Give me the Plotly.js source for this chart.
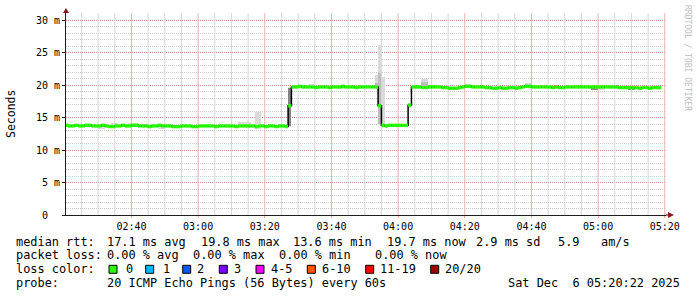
<!DOCTYPE html>
<html>
<head>
<meta charset="utf-8">
<script src="https://cdn.plot.ly/plotly-3.0.1.min.js"></script>
<style>
  html, body { margin: 0; padding: 0; background: #ffffff; }
  #chart { width: 697px; height: 297px; }
</style>
</head>
<body>
<div id="chart"></div>
<script>
// ---------------- DATA ----------------
// Median RTT (ms), one value per 1-minute bin starting 02:20 (bin 0) through 05:18 (bin 178)
const firstBin = '02:20';
const medianRtt = [
  13.8,13.7,13.7,13.8,13.7,13.7,13.8,13.8,13.7,13.7,
  13.7,13.8,13.7,13.6,13.6,13.7,13.7,13.8,13.7,13.7,
  13.8,13.8,13.7,13.7,13.7,13.6,13.7,13.7,13.8,13.7,
  13.7,13.7,13.6,13.6,13.6,13.7,13.7,13.7,13.6,13.6,
  13.7,13.7,13.7,13.7,13.7,13.6,13.7,13.7,13.7,13.7,
  13.7,13.6,13.7,13.7,13.7,13.7,13.7,13.6,13.7,13.7,
  13.6,13.7,13.7,13.6,13.7,13.7,13.6,
  16.8,
  19.7,19.7,19.8,19.7,19.7,19.7,19.7,19.6,19.7,19.7,
  19.7,19.6,19.7,19.7,19.7,19.8,19.7,19.7,19.7,19.6,
  19.7,19.7,19.7,19.7,19.7,19.7,
  16.8,
  13.8,13.7,13.8,13.8,13.8,13.8,13.8,13.8,
  16.9,
  19.7,19.7,19.7,19.6,19.6,19.7,19.7,19.7,19.7,19.6,
  19.6,19.5,19.5,19.5,19.6,19.7,19.8,19.8,19.7,19.7,
  19.7,19.7,19.6,19.6,19.5,19.5,19.6,19.5,19.5,19.6,
  19.6,19.5,19.6,19.7,19.8,19.8,19.7,19.7,19.7,19.7,
  19.7,19.7,19.6,19.7,19.6,19.6,19.7,19.7,19.7,19.7,
  19.7,19.7,19.7,19.7,19.7,19.7,19.7,19.7,19.7,19.7,
  19.7,19.7,19.6,19.6,19.6,19.6,19.6,19.6,19.5,19.6,
  19.6,19.5,19.6,19.6,19.6
];

// Smoke (spread of the 20 pings) where it shows beyond the median line
const smokeOuterBins = ['02:30','02:31','02:34','02:35','02:36','02:39','02:40','02:41','02:48','02:49',
  '03:12','03:13','03:14','03:15','03:17','03:18','03:27','03:33','03:34','03:42','03:43',
  '03:53','03:54','03:55','03:57','03:58','03:59','04:00','04:03','04:07','04:08',
  '04:20','04:21','04:38','04:39','05:00','05:01'];
const smokeOuterLow  = [13.3,13.3,13.5,13.5,13.5,13.5,13.5,13.5,13.3,13.3,
  13.5,13.5,13.5,13.4,13.3,13.3,13.6,19.5,19.5,19.4,19.4,
  19.6,13.8,13.7,13.5,13.5,13.5,13.5,16.4,19.5,19.5,
  19.6,19.6,19.6,19.6,19.2,19.2];
const smokeOuterHigh = [13.9,13.9,14.1,14.1,14.0,14.1,14.1,14.1,13.8,13.8,
  14.3,14.35,14.35,14.3,15.9,15.9,19.7,20.1,20.1,19.9,19.9,
  21.6,26.2,21.2,13.9,13.9,13.9,13.9,17.3,21.0,21.0,
  20.1,20.1,20.35,20.35,19.7,19.7];

const smokeMidBins = ['03:53','03:54','04:07','04:08','04:38','05:06','05:07'];
const smokeMidLow  = [19.6,14.0,19.6,19.6,19.7,19.35,19.35];
const smokeMidHigh = [20.3,21.8,20.4,20.4,20.1,19.6,19.6];

const smokeCoreBins = ['03:27','04:58','04:59','05:09','05:10'];
const smokeCoreLow  = [13.7,19.3,19.3,19.3,19.3];
const smokeCoreHigh = [19.6,19.6,19.6,19.6,19.6];

// Axis ticks
const yTickVals = [0,5,10,15,20,25,30];
const yTickText = ['0\u00a0\u00a0','5 m','10 m','15 m','20 m','25 m','30 m'];
const xGridFirst = '02:25', xGridLast = '05:20';   // 5-minute minor grid, 20-minute major grid

// Legend / statistics text
const rowLabels = ['median rtt:', 'packet loss:', 'loss color:', 'probe:'];
const rttStats = ['17.1 ms avg', '19.8 ms max', '13.6 ms min', '19.7 ms now', '2.9 ms sd', '5.9', 'am/s'];
const lossStats = ['0.00 % avg', '0.00 % max', '0.00 % min', '0.00 % now'];
const lossLabels = ['0', '1', '2', '3', '4-5', '6-10', '11-19', '20/20'];
const lossColors = ['#26ff00', '#00b8ff', '#0059ff', '#7e00ff', '#ff00ff', '#ff5500', '#ff0000', '#a10000'];
const probeText = '20 ICMP Echo Pings (56 Bytes) every 60s';
const dateText = 'Sat Dec\u00a0\u00a06 05:20:22 2025';
const watermark = 'RRDTOOL / TOBI OETIKER';
const yTitle = 'Seconds';

// ---------------- HELPERS ----------------
const DAY = '2025-12-06 ';
function pad(n) { return (n < 10 ? '0' : '') + n; }
function toMin(hhmm) { const p = hhmm.split(':'); return (+p[0]) * 60 + (+p[1]); }
function minToTime(m) { return DAY + pad(Math.floor(m / 60)) + ':' + pad(m % 60) + ':00'; }
const startMin = toMin(firstBin);
const binTimes = medianRtt.map((_, i) => minToTime(startMin + i));
const binEnds = medianRtt.map((_, i) => minToTime(startMin + i + 1));

// plot geometry (pixels)
const L = 66, R = 666, T = 13, B = 215;
const Y_MAX = (B - T) / 6.5;
const px2x = p => (p - L) / (R - L);
const py2y = p => (B - p) / (B - T);
const X_RANGE = ['2025-12-06 02:20:22', '2025-12-06 05:20:22'];

function smokeTrace(bins, lo, hi, color) {
  return {
    type: 'bar',
    x: bins.map(b => minToTime(toMin(b))),
    base: lo,
    y: hi.map((h, i) => h - lo[i]),
    width: 60000,
    offset: 0,
    marker: { color: color, line: { width: 0 } },
    hoverinfo: 'skip'
  };
}

// vertical time grid drawn through the x data scale
const vgMinorX = [], vgMinorY = [], vgMajorX = [], vgMajorY = [];
for (let m = toMin(xGridFirst); m <= toMin(xGridLast); m += 5) {
  const tx = minToTime(m);
  if (m % 20 === 0) { vgMajorX.push(tx, tx, null); vgMajorY.push(0, Y_MAX, null); }
  else { vgMinorX.push(tx, tx, null); vgMinorY.push(0, Y_MAX, null); }
}

// green median segments (horizontal only)
const gx = [], gy = [];
medianRtt.forEach((v, i) => { gx.push(binTimes[i], binEnds[i], null); gy.push(v, v, null); });

const traces = [
  { type: 'scatter', mode: 'lines', x: vgMinorX, y: vgMinorY, connectgaps: false,
    line: { color: '#d6d6d6', width: 1 }, hoverinfo: 'skip' },
  { type: 'scatter', mode: 'lines', x: vgMajorX, y: vgMajorY, connectgaps: false,
    line: { color: '#eeb0b0', width: 1 }, hoverinfo: 'skip' },
  smokeTrace(smokeOuterBins, smokeOuterLow, smokeOuterHigh, '#dadada'),
  smokeTrace(smokeMidBins, smokeMidLow, smokeMidHigh, '#bdbdbd'),
  smokeTrace(smokeCoreBins, smokeCoreLow, smokeCoreHigh, '#858585'),
  {
    type: 'scatter', mode: 'lines',
    x: binTimes, y: medianRtt,
    line: { color: '#000000', width: 1.5, shape: 'hv' },
    hoverinfo: 'skip'
  },
  {
    type: 'scatter', mode: 'lines',
    x: gx, y: gy, connectgaps: false,
    line: { color: lossColors[0], width: 3.4 },
    hoverinfo: 'skip'
  }
];

// ---------------- LAYOUT ----------------
const MONO = 'DejaVu Sans Mono, monospace';
const axisCol = 'rgb(31,31,31)';
const gridCol = 'rgba(143,143,143,0.45)';
const mgridCol = 'rgba(222,79,79,0.5)';
const txtSize = 11.9;

const annotations = [];
function addText(text, px, py, opts) {
  annotations.push(Object.assign({
    text: text, xref: 'paper', yref: 'paper', x: px2x(px), y: py2y(py),
    xanchor: 'left', yanchor: 'middle', showarrow: false,
    borderpad: 0, borderwidth: 0,
    font: { family: MONO, size: txtSize, color: '#000000' }
  }, opts || {}));
}
const rowY = [241.7, 255.2, 269.3, 282.7];
rowLabels.forEach((t, i) => addText(t, 15.5, rowY[i]));
const rttX = [107, 200.7, 293.3, 386.7, 476, 558.3, 601];
rttStats.forEach((t, i) => addText(t, rttX[i], rowY[0]));
const lossX = [107, 193.3, 279.3, 375];
lossStats.forEach((t, i) => addText(t, lossX[i], rowY[1]));
const boxX = [109, 145.7, 182.7, 219.3, 256, 307.3, 365.7, 430.7];
const lblX = [126, 163, 197.3, 234.3, 271, 322.3, 380, 445];
lossLabels.forEach((t, i) => addText(t, lblX[i], rowY[2]));
addText(probeText, 107, rowY[3]);
addText(dateText, 680, rowY[3], { xanchor: 'right' });
addText(yTitle, 11, 114, { xanchor: 'center', textangle: -90, font: { family: MONO, size: 11.5, color: '#000000' } });
addText(watermark, 687, 58, { xanchor: 'center', textangle: 90, font: { family: MONO, size: 8, color: '#bdbdbd' } });

const shapes = [];
lossColors.forEach((c, i) => {
  shapes.push({
    type: 'rect', xref: 'paper', yref: 'paper',
    x0: px2x(boxX[i]), x1: px2x(boxX[i] + 8),
    y0: py2y(rowY[2] + 4), y1: py2y(rowY[2] - 4),
    fillcolor: c, line: { color: '#000000', width: 1 }
  });
});
// axis extensions and arrows
shapes.push({ type: 'line', xref: 'paper', yref: 'paper', x0: 1, x1: px2x(669), y0: 0, y1: 0,
  line: { color: axisCol, width: 1 } });
shapes.push({ type: 'path', xref: 'paper', yref: 'paper', xsizemode: 'pixel', ysizemode: 'pixel',
  xanchor: px2x(668), yanchor: 0, path: 'M 0 -3 L 6 0 L 0 3 Z',
  fillcolor: 'rgb(127,31,31)', line: { width: 0 } });
shapes.push({ type: 'path', xref: 'paper', yref: 'paper', xsizemode: 'pixel', ysizemode: 'pixel',
  xanchor: 0, yanchor: 1, path: 'M -3 0 L 3 0 L 0 5 Z',
  fillcolor: 'rgb(127,31,31)', line: { width: 0 } });

const layout = {
  width: 697, height: 297,
  margin: { l: L, r: 697 - R, t: T, b: 297 - B, pad: 0 },
  paper_bgcolor: '#ffffff', plot_bgcolor: '#ffffff',
  showlegend: false, barmode: 'overlay', bargap: 0,
  xaxis: {
    type: 'date', range: X_RANGE,
    tick0: '2025-12-06 00:00:00', dtick: 1200000, tickformat: '%H:%M',
    showgrid: false,
    ticks: 'outside', ticklen: 2, tickcolor: mgridCol, tickwidth: 1,
    showline: true, linecolor: axisCol, linewidth: 1,
    zeroline: false, fixedrange: true,
    tickfont: { family: MONO, size: 10, color: '#000000' }
  },
  yaxis: {
    range: [0, Y_MAX],
    tickvals: yTickVals, ticktext: yTickText,
    showgrid: true, gridcolor: mgridCol, griddash: '1px,1px', gridwidth: 1,
    minor: { dtick: 1, tick0: 0, showgrid: true, gridcolor: gridCol, griddash: '1px,1px', gridwidth: 1 },
    ticks: 'outside', ticklen: 3, tickcolor: axisCol, tickwidth: 1,
    showline: true, linecolor: axisCol, linewidth: 1,
    zeroline: false, fixedrange: true,
    tickfont: { family: MONO, size: 10, color: '#000000' }
  },
  annotations: annotations,
  shapes: shapes
};

Plotly.newPlot('chart', traces, layout, { displayModeBar: false, staticPlot: true });
</script>
</body>
</html>
